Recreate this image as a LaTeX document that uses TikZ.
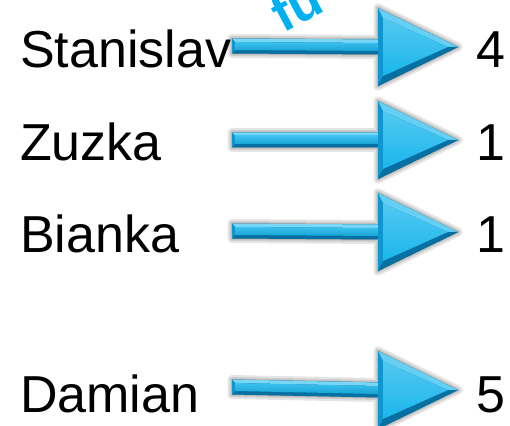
\documentclass[tikz,border=0pt]{standalone}
\usepackage{fontspec}
\setmainfont{Liberation Sans}
\usetikzlibrary{calc}

\definecolor{cyanmain}{RGB}{26,182,236}
\definecolor{cyanlight}{RGB}{120,214,246}
\definecolor{cyanmid}{RGB}{14,150,206}
\definecolor{cyandark}{RGB}{6,112,162}
\definecolor{titlecyan}{RGB}{0,176,240}

\tikzset{
  label text/.style={font=\fontsize{52}{60}\selectfont, inner sep=0pt, anchor=base west},
  count text/.style={font=\fontsize{52}{60}\selectfont, inner sep=0pt, anchor=base west},
  arrow shadow/.style={fill=black, draw=black, opacity=0.10, line join=round},
}

% Bevelled 3-D block arrow from coordinate #1 (tail) to coordinate #2 (tip)
\newcommand\bevarrow[2]{%
  \coordinate (SA) at ($(#1)+(0,7.5)$);
  \coordinate (SB) at ($(#1)+(0,-7.5)$);
  \coordinate (sa) at ($(#1)+(3,4)$);
  \coordinate (sb) at ($(#1)+(3,-4)$);
  \coordinate (HA) at ($(#2)+(-80,7.5)$);
  \coordinate (HB) at ($(#2)+(-80,-7.5)$);
  \coordinate (ha) at ($(#2)+(-80,4)$);
  \coordinate (hb) at ($(#2)+(-80,-4)$);
  \coordinate (HT) at ($(#2)+(-80,39)$);
  \coordinate (HD) at ($(#2)+(-80,-39)$);
  \coordinate (HTi) at ($(#2)+(-75,29)$);
  \coordinate (HDi) at ($(#2)+(-75,-29)$);
  \coordinate (Ti) at ($(#2)+(-10,0)$);
  % soft drop shadow
  \foreach \w in {9,5,2}{
    \path[arrow shadow, line width=\w pt, shift={(3,-6)}]
      (SA) -- (HA) -- (HT) -- (#2) -- (HD) -- (HB) -- (SB) -- cycle;
  }
  % body
  \fill[cyandark] (SA) -- (HA) -- (HT) -- (#2) -- (HD) -- (HB) -- (SB) -- cycle;
  % shaft facets
  \fill[cyanlight] (SA) -- (HA) -- (ha) -- (sa) -- cycle;
  \fill[cyanmid] (SA) -- (sa) -- (sb) -- (SB) -- cycle;
  \shade[top color=cyanmain!85!white, bottom color=cyanmain!90!black]
    (sa) -- (ha) -- (hb) -- (sb) -- cycle;
  % head facets
  \fill[cyanmid] (HT) -- (HTi) -- (HDi) -- (HD) -- cycle;
  \fill[cyanlight!80!cyanmain] (HT) -- (#2) -- (Ti) -- (HTi) -- cycle;
  \fill[cyandark] (HD) -- (HDi) -- (Ti) -- (#2) -- cycle;
  \shade[top color=cyanmain!75!white, bottom color=cyanmain]
    (HTi) -- (Ti) -- (HDi) -- cycle;
}

\begin{document}
\begin{tikzpicture}[x=1pt, y=1pt]
  \useasboundingbox (0,0) rectangle (510,425);
  \clip (0,0) rectangle (510,425);

  % rotated heading, running off the top edge
  \node[font=\bfseries\fontsize{52}{60}\selectfont, text=titlecyan, inner sep=0pt,
        anchor=base west, rotate=28] (title) at (283,391) {fu};

  % names
  \node[label text] (n1) at (20,357) {Stanislav};
  \node[label text] (n2) at (20,264) {Zuzka};
  \node[label text] (n3) at (20,172) {Bianka};
  \node[label text] (n4) at (20,13)  {Damian};

  % counts
  \node[count text] (c1) at (476,357) {4};
  \node[count text] (c2) at (476,264) {1};
  \node[count text] (c3) at (476,172) {1};
  \node[count text] (c4) at (476,13)  {5};

  % arrow tails and tips
  \coordinate (s1) at (232,379); \coordinate (t1) at (458,378);
  \coordinate (s2) at (232,285); \coordinate (t2) at (458,285);
  \coordinate (s3) at (232,194); \coordinate (t3) at (458,193);
  \coordinate (s4) at (232,38);  \coordinate (t4) at (458,35);

  \bevarrow{s1}{t1}
  \bevarrow{s2}{t2}
  \bevarrow{s3}{t3}
  \bevarrow{s4}{t4}
\end{tikzpicture}
\end{document}
